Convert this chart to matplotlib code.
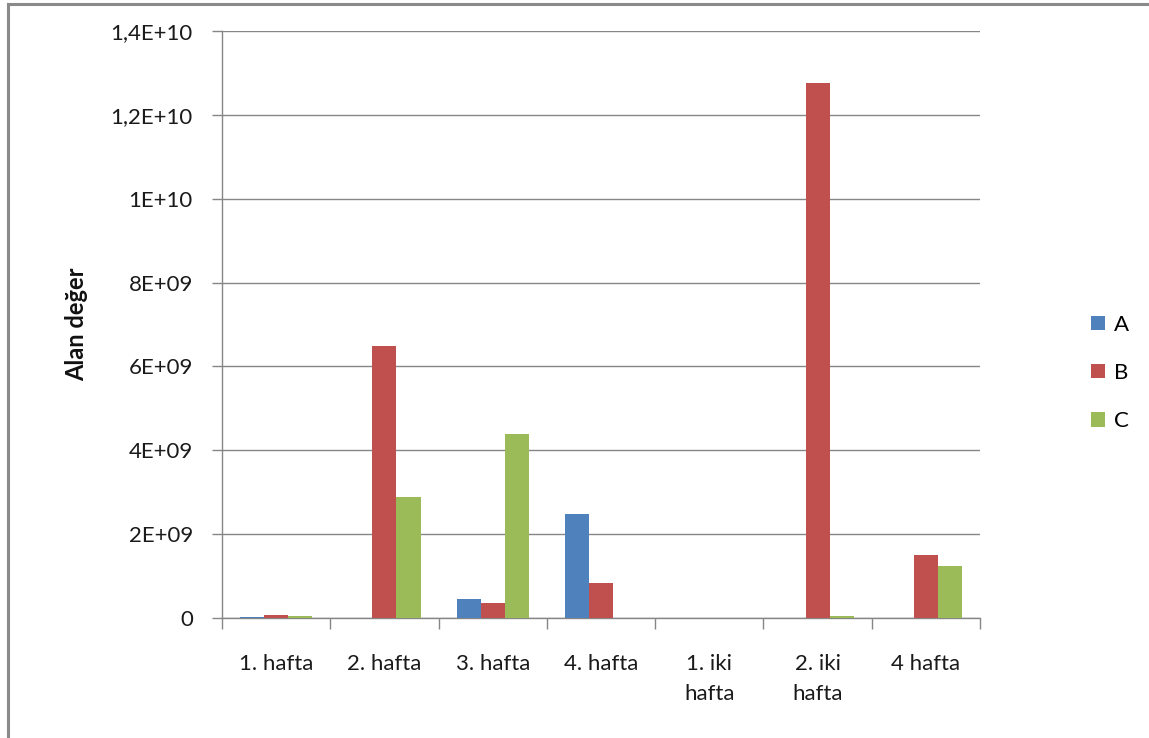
import matplotlib
matplotlib.use("Agg")
import matplotlib.pyplot as plt
from matplotlib.lines import Line2D
from matplotlib.patches import Patch
import numpy as np

# Weekly measurement groups and the three series
categories = ["1. hafta", "2. hafta", "3. hafta", "4. hafta", "1. iki\nhafta", "2. iki\nhafta", "4 hafta"]
series_names = ["A", "B", "C"]
values_a = [0.03e9, 0.0, 0.46e9, 2.48e9, 0.0, 0.0, 0.0]
values_b = [0.07e9, 6.48e9, 0.36e9, 0.83e9, 0.0, 12.76e9, 1.50e9]
values_c = [0.04e9, 2.88e9, 4.40e9, 0.0, 0.0, 0.04e9, 1.24e9]
y_ticks = [0, 2e9, 4e9, 6e9, 8e9, 1e10, 1.2e10, 1.4e10]
y_tick_labels = ["0", "2E+09", "4E+09", "6E+09", "8E+09", "1E+10", "1,2E+10", "1,4E+10"]
y_label = "Alan değer"

colors = ["#4F81BD", "#C0504D", "#9BBB59"]
axis_grey = "#868686"
text_col = "#1a1a1a"
fs = 16

plt.rcParams["font.family"] = ["Lato", "DejaVu Sans"]

W, H = 1149, 738
fig = plt.figure(figsize=(W / 100, H / 100), dpi=100)
fig.patch.set_facecolor("white")

ax = fig.add_axes([222 / W, 1 - 618 / H, (980 - 222) / W, (618 - 31) / H])

n = len(categories)
x = np.arange(n)
bar_w = 2 / 9  # 150% gap width between clusters
for i, (vals, col, name) in enumerate(zip([values_a, values_b, values_c], colors, series_names)):
    ax.bar(x + (i - 1) * bar_w, vals, width=bar_w, color=col, label=name,
           edgecolor="none", zorder=3)

ax.set_xlim(-0.5, n - 0.5)
ax.set_ylim(0, 1.4e10)
ax.set_yticks(y_ticks)
ax.set_yticklabels(y_tick_labels)
ax.yaxis.grid(True, color=axis_grey, linewidth=1.0, zorder=0)
ax.set_axisbelow(True)

for side in ["top", "right"]:
    ax.spines[side].set_visible(False)
for side in ["left", "bottom"]:
    ax.spines[side].set_color(axis_grey)
    ax.spines[side].set_linewidth(1.0)

# Category labels centred, tick marks on category boundaries
ax.set_xticks(x)
ax.set_xticklabels(categories, fontsize=fs, color=text_col, linespacing=1.6, va="top")
ax.tick_params(axis="x", length=0, pad=26)
ax.set_xticks(np.arange(n + 1) - 0.5, minor=True)
ax.tick_params(axis="x", which="minor", length=8, color=axis_grey, width=1.0)
ax.tick_params(axis="y", length=7, color=axis_grey, width=1.0, labelsize=fs,
               labelcolor=text_col, pad=14)

ax.set_ylabel(y_label, fontsize=17, fontweight="bold", labelpad=16, color="#111111")

# Legend on the right
handles = [Patch(facecolor=c, edgecolor="none") for c in colors]
fig.legend(handles, series_names, loc="center left",
           bbox_to_anchor=(1091 / W, 1 - 373 / H), frameon=False,
           fontsize=fs, handlelength=0.62, handleheight=0.62,
           handletextpad=0.4, labelspacing=1.28, borderaxespad=0, borderpad=0)

# Chart frame
frame_kw = dict(color="#8a8a8a", linewidth=2.2, transform=fig.transFigure)
fig.add_artist(Line2D([7.5 / W, 7.5 / W], [0, 1 - 4 / H], **frame_kw))
fig.add_artist(Line2D([7.5 / W, 1], [1 - 4 / H, 1 - 4 / H], **frame_kw))

fig.savefig("out.png", dpi=100, facecolor="white")
